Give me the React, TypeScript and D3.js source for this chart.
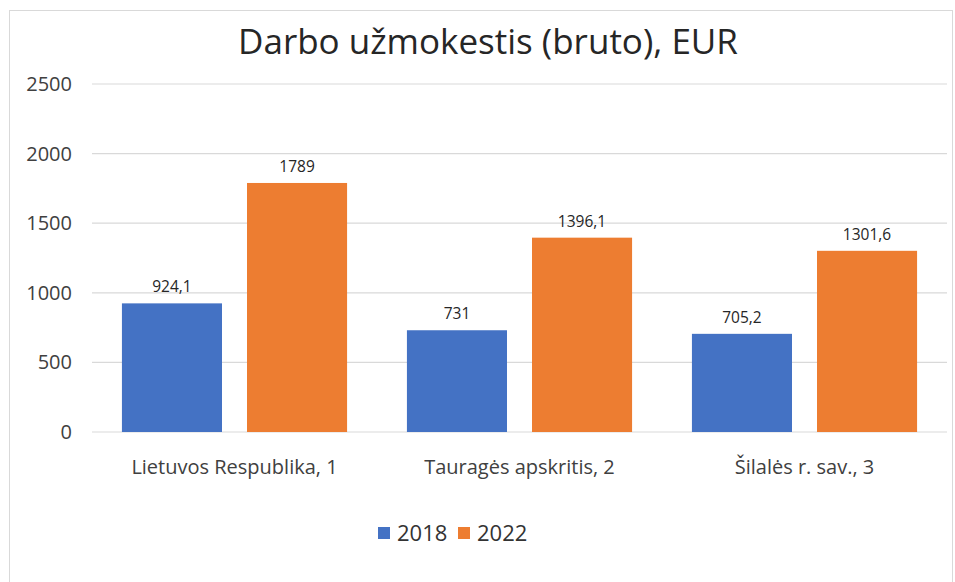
import React from 'react';
import * as d3 from 'd3';

const width = 955;
const height = 582;

const categories = ['Lietuvos Respublika, 1', 'Tauragės apskritis, 2', 'Šilalės r. sav., 3'];
const seriesNames = ['2018', '2022'];
const values2018 = [924.1, 731, 705.2];
const values2022 = [1789, 1396.1, 1301.6];
const yTicks = [0, 500, 1000, 1500, 2000, 2500];
const colors = ['#4472C4', '#ED7D31'];

const fmt = (v: number) => String(v).replace('.', ',');

const font = "'Open Sans', 'Noto Sans', sans-serif";

const App = () => {
    const plot = { left: 92, right: 947, top: 84, bottom: 432 };

    const xScale = d3.scaleBand()
        .domain(categories)
        .range([plot.left, plot.right])
        .paddingInner(0.21)
        .paddingOuter(0.105);

    const subScale = d3.scaleBand()
        .domain(seriesNames)
        .range([0, xScale.bandwidth()])
        .paddingInner(0.2);

    const yScale = d3.scaleLinear()
        .domain([0, 2500])
        .range([plot.bottom, plot.top]);

    const series = [values2018, values2022];

    return (
        <svg width={width} height={height} style={{ position: 'absolute', left: 0, top: 0, background: '#fff' }}>
            <rect x={9.5} y={10.5} width={943} height={600} fill="#fff" stroke="#d9d9d9" />
            <text x={488} y={54} textAnchor="middle" fontFamily={font} fontSize={35} fill="#262626">
                Darbo užmokestis (bruto), EUR
            </text>
            {yTicks.map(t => (
                <g key={t}>
                    <line x1={plot.left} x2={plot.right} y1={yScale(t)} y2={yScale(t)} stroke="#d9d9d9" strokeWidth={1.2} />
                    <text x={72} y={yScale(t)} dy=".35em" textAnchor="end" fontFamily={font} fontSize={20} fill="#404040">
                        {t}
                    </text>
                </g>
            ))}
            {categories.map((c, i) => (
                <g key={c} transform={`translate(${xScale(c)},0)`}>
                    {series.map((vals, s) => {
                        const x = subScale(seriesNames[s]) as number;
                        const y = yScale(vals[i]);
                        return (
                            <g key={s}>
                                <rect x={x} y={y} width={subScale.bandwidth()} height={plot.bottom - y} fill={colors[s]} />
                                <text x={x + subScale.bandwidth() / 2} y={y - 11} textAnchor="middle"
                                    fontFamily={font} fontSize={15.5} fill="#262626">
                                    {fmt(vals[i])}
                                </text>
                            </g>
                        );
                    })}
                    <text x={xScale.bandwidth() / 2} y={474} textAnchor="middle" fontFamily={font} fontSize={20} fill="#404040">
                        {c}
                    </text>
                </g>
            ))}
            <g transform="translate(378,533)">
                {seriesNames.map((n, s) => (
                    <g key={n} transform={`translate(${s * 80},0)`}>
                        <rect x={0} y={-6} width={12} height={12} fill={colors[s]} />
                        <text x={19} y={0} dy=".35em" fontFamily={font} fontSize={22} fill="#333333">{n}</text>
                    </g>
                ))}
            </g>
        </svg>
    );
};

export default App;
